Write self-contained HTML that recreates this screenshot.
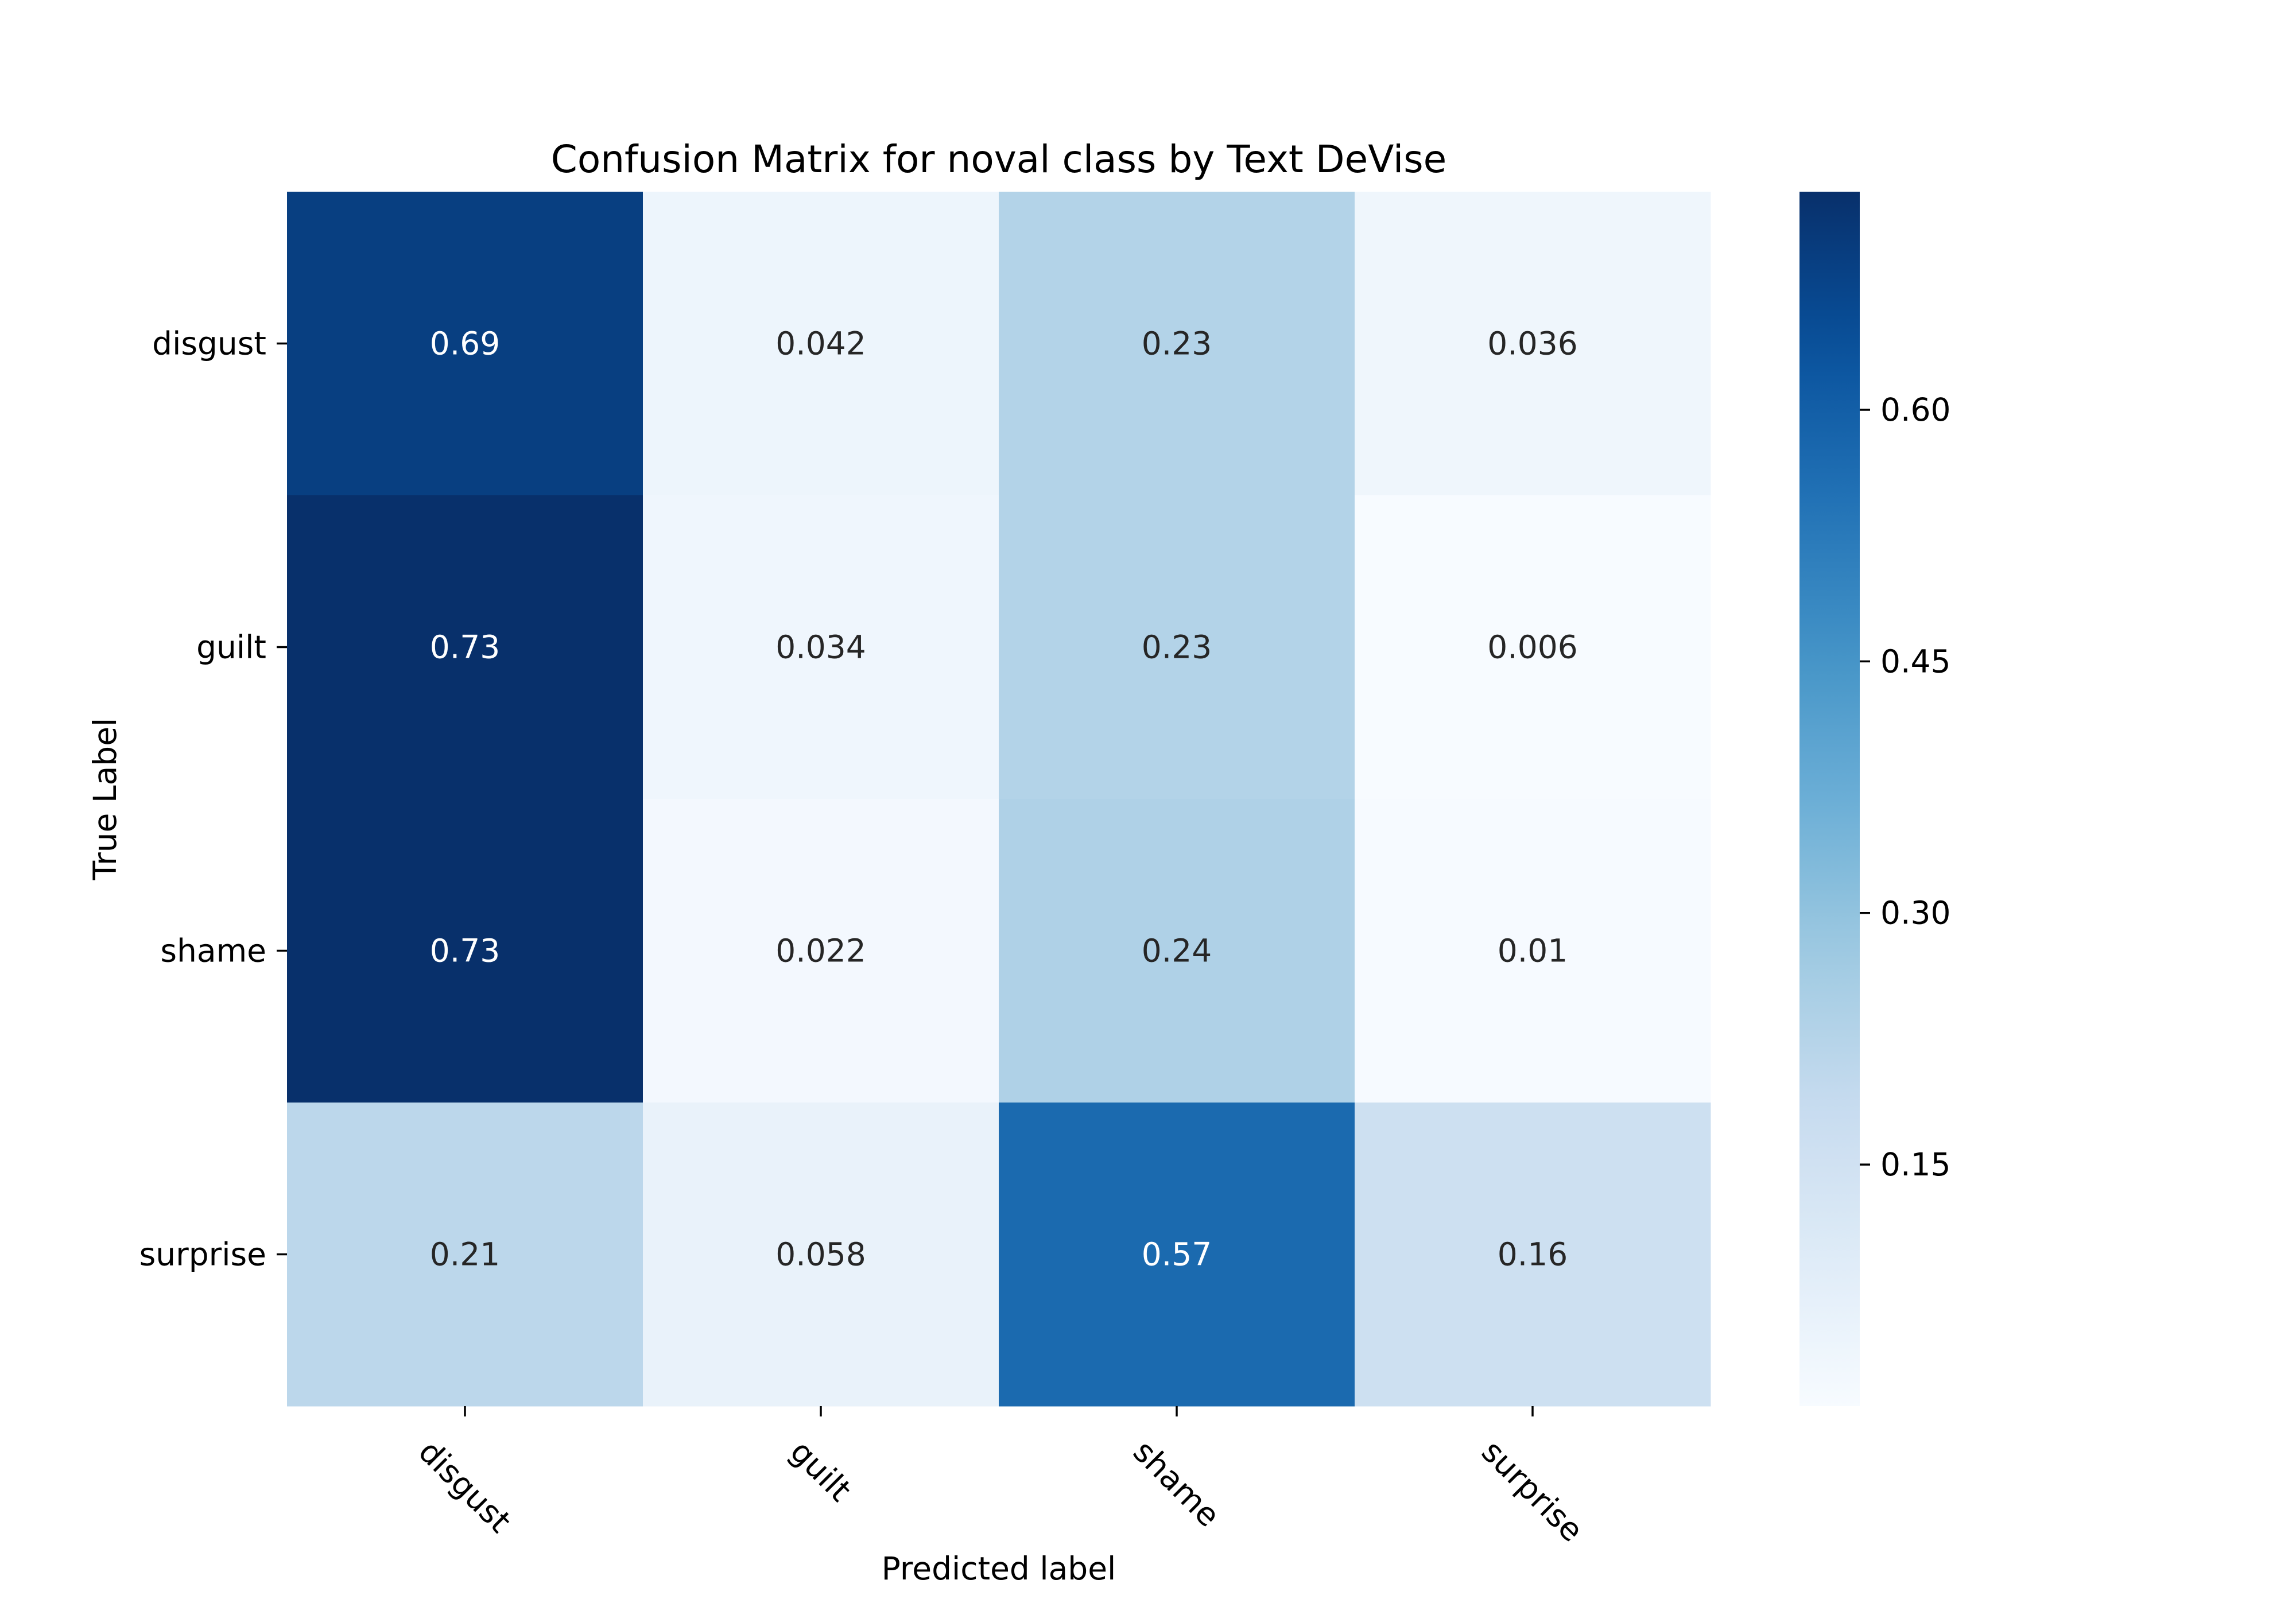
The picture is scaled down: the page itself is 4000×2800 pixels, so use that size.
<!DOCTYPE html>
<html><head><meta charset="utf-8"><style>
html,body{margin:0;padding:0;background:#fff;}
svg{display:block;font-family:"DejaVu Sans","Liberation Sans",sans-serif;}
</style></head><body>
<svg id="chart" width="4000" height="2800" viewBox="0 0 4000 2800">
<defs><linearGradient id="cbgrad" x1="0" y1="1" x2="0" y2="0"></linearGradient></defs>
<text x="1740" y="300" text-anchor="middle" font-size="66" fill="#000">Confusion Matrix for noval class by Text DeVise</text>
<g id="cells"></g>
<g id="axes"></g>
<text x="1740" y="2752" text-anchor="middle" font-size="55" fill="#000">Predicted label</text>
<text transform="translate(202,1392) rotate(-90)" text-anchor="middle" font-size="55" fill="#000">True Label</text>
<g id="cbar"></g>
</svg>
<script>
const predLabels = ["disgust","guilt","shame","surprise"];
const trueLabels = ["disgust","guilt","shame","surprise"];
const rowDisgust = [0.69,0.042,0.23,0.036];
const rowGuilt = [0.73,0.034,0.23,0.006];
const rowShame = [0.73,0.022,0.24,0.01];
const rowSurprise = [0.21,0.058,0.57,0.16];
const cellText = [["0.69","0.042","0.23","0.036"],["0.73","0.034","0.23","0.006"],["0.73","0.022","0.24","0.01"],["0.21","0.058","0.57","0.16"]];
const cbTicks = [0.15,0.30,0.45,0.60];
const cbTickLabels = ["0.15","0.30","0.45","0.60"];
const vmin = 0.006, vmax = 0.73;

const NS="http://www.w3.org/2000/svg";
const FS=55;
const rows=[rowDisgust,rowGuilt,rowShame,rowSurprise];
const X0=500,X1=2980,Y0=334,Y1=2450;
const cw=(X1-X0)/predLabels.length, ch=(Y1-Y0)/trueLabels.length;
const xCenter=i=>X0+cw*(i+0.5), yCenter=j=>Y0+ch*(j+0.5);
const stops=[[0,"#f7fbff"],[0.125,"#deebf7"],[0.25,"#c6dbef"],[0.375,"#9ecae1"],[0.5,"#6baed6"],[0.625,"#4292c6"],[0.75,"#2171b5"],[0.875,"#08519c"],[1,"#08306b"]];
function hex(h){return [1,3,5].map(k=>parseInt(h.substr(k,2),16));}
function blues(t){t=Math.max(0,Math.min(1,t));for(let k=1;k<stops.length;k++){if(t<=stops[k][0]){const a=stops[k-1],b=stops[k];const f=(t-a[0])/(b[0]-a[0]);const ca=hex(a[1]),cb=hex(b[1]);const c=ca.map((v,i)=>Math.round(v+(cb[i]-v)*f));return {css:`rgb(${c})`,rgb:c};}}return {css:"#08306b",rgb:[8,48,107]};}
function mk(tag,attrs,parent){const e=document.createElementNS(NS,tag);for(const k in attrs)e.setAttribute(k,attrs[k]);parent.appendChild(e);return e;}
const cells=document.getElementById('cells');
rows.forEach((row,j)=>{row.forEach((v,i)=>{
  const col=blues((v-vmin)/(vmax-vmin));
  const r=mk('rect',{x:X0+cw*i,y:Y0+ch*j,width:cw+0.5,height:ch+0.5,fill:col.css},cells);
  
  
  const lum=(0.2126*col.rgb[0]+0.7152*col.rgb[1]+0.0722*col.rgb[2])/255;
  const t=mk('text',{x:xCenter(i),y:yCenter(j)+19,'text-anchor':'middle','font-size':FS,fill:lum>0.408?'#262626':'#ffffff'},cells);
  t.textContent=cellText[j][i];
  
  
});});
const axes=document.getElementById('axes');
trueLabels.forEach((lab,j)=>{
  const y=yCenter(j);
  const tk=mk('line',{x1:X0-18,x2:X0,y1:y,y2:y,stroke:'#000','stroke-width':3.5},axes);
  
  
  const t=mk('text',{x:X0-36,y:y+19,'text-anchor':'end','font-size':FS,fill:'#000'},axes);
  t.textContent=lab;
  
  
});
predLabels.forEach((lab,i)=>{
  const x=xCenter(i);
  const tk=mk('line',{x1:x,x2:x,y1:Y1,y2:Y1+18,stroke:'#000','stroke-width':3.5},axes);
  
  
  const t=mk('text',{'text-anchor':'middle','font-size':FS,fill:'#000','dominant-baseline':'central'},axes);
  t.textContent=lab;
  
  
  const L=t.getComputedTextLength(), h=FS;
  const bh=(L+h)/Math.SQRT2;
  const cy=Y1+50+bh/2;
  t.setAttribute('transform',`translate(${x},${cy}) rotate(45)`);
});
const CX0=3135,CX1=3240;
const grad=document.getElementById('cbgrad');
for(let k=0;k<=20;k++){mk('stop',{offset:k/20,'stop-color':blues(k/20).css},grad);}
const cbar=document.getElementById('cbar');
const cb=mk('rect',{x:CX0,y:Y0,width:CX1-CX0,height:Y1-Y0,fill:'url(#cbgrad)'},cbar);


const cy=v=>Y1-(v-vmin)/(vmax-vmin)*(Y1-Y0);
cbTicks.forEach((v,k)=>{
  const y=cy(v);
  const tk=mk('line',{x1:CX1,x2:CX1+18,y1:y,y2:y,stroke:'#000','stroke-width':3.5},cbar);
  
  
  const t=mk('text',{x:CX1+36,y:y+19,'font-size':FS,fill:'#000'},cbar);
  t.textContent=cbTickLabels[k];
  
  
});
</script>
</body></html>
